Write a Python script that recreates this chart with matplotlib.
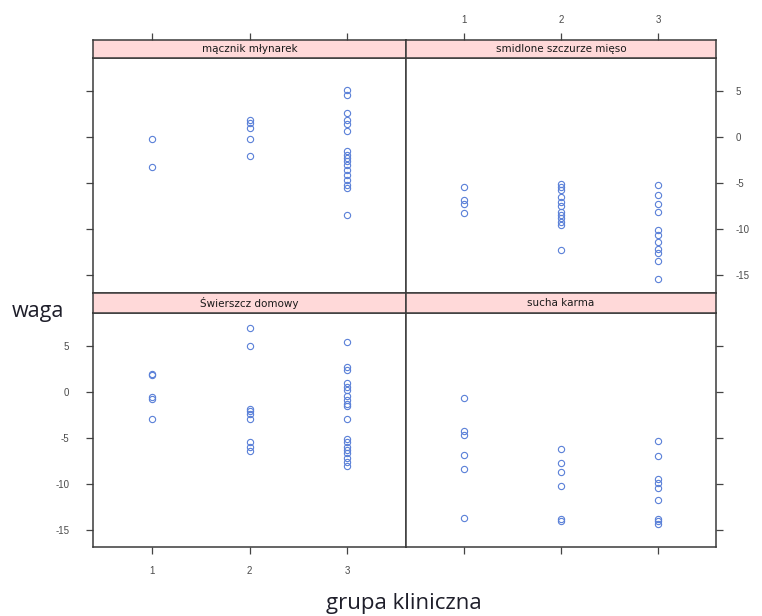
import matplotlib
matplotlib.use("Agg")
import matplotlib.pyplot as plt

plt.rcParams["axes.unicode_minus"] = False

# panel names (lattice strips)
panels = ["mącznik młynarek", "smidlone szczurze mięso", "Świerszcz domowy", "sucha karma"]
groups = [1, 2, 3]
y_ticks = [5, 0, -5, -10, -15]

# waga values, per group 1/2/3
maka_1 = [-0.2, -3.2]
maka_2 = [1.9, 1.5, 1.0, -0.2, -2.0]
maka_3 = [5.1, 4.6, 2.6, 1.9, 1.4, 0.7, -1.5, -1.9, -2.25, -2.6, -3.0, -3.5, -4.1, -4.6, -5.2, -5.5, -8.45]

szczur_1 = [-5.4, -6.8, -7.2, -8.2]
szczur_2 = [-5.1, -5.4, -5.7, -6.45, -7.0, -7.5, -8.1, -8.45, -8.8, -9.2, -9.5, -12.2]
szczur_3 = [-5.2, -6.3, -7.2, -8.1, -10.1, -10.6, -11.4, -12.1, -12.6, -13.4, -15.4]

swierszcz_1 = [2.0, 1.8, -0.5, -0.8, -2.9]
swierszcz_2 = [7.0, 5.0, -1.85, -2.1, -2.4, -2.9, -5.5, -6.0, -6.45]
swierszcz_3 = [5.4, 2.7, 2.4, 1.0, 0.55, 0.25, -0.4, -0.84, -1.27, -1.56, -2.9,
               -5.1, -5.5, -6.0, -6.3, -6.7, -7.2, -7.65, -8.1]

sucha_1 = [-0.65, -4.3, -4.65, -6.85, -8.4, -13.7]
sucha_2 = [-6.2, -7.8, -8.7, -10.2, -13.9, -14.1]
sucha_3 = [-5.3, -7.0, -9.5, -9.95, -10.5, -11.8, -13.8, -14.1, -14.4]

data = [
    [maka_1, maka_2, maka_3],
    [szczur_1, szczur_2, szczur_3],
    [swierszcz_1, swierszcz_2, swierszcz_3],
    [sucha_1, sucha_2, sucha_3],
]

W, H = 762, 616
fig = plt.figure(figsize=(W / 100, H / 100), dpi=100)

def frac(x0, y0, x1, y1):
    # pixel box -> figure fraction rect
    return [x0 / W, 1 - y1 / H, (x1 - x0) / W, (y1 - y0) / H]

cols = [(93, 406), (406, 716)]
rows = [((40, 58), (58, 293)), ((293, 313), (313, 547))]

frame_col = "#3a3a3a"
tick_col = "#444444"
label_col = "#4a4a4a"
pt_col = "#5a80d8"

for i, name in enumerate(panels):
    r, c = divmod(i, 2)
    (sy0, sy1), (py0, py1) = rows[r]
    x0, x1 = cols[c]

    ax = fig.add_axes(frac(x0, py0, x1, py1))
    sax = fig.add_axes(frac(x0, sy0, x1, sy1))

    for g, vals in zip(groups, data[i]):
        ax.plot([g] * len(vals), vals, "o", mfc="none", mec=pt_col, mew=0.8, ms=4.5)

    ax.set_xlim(0.4, 3.6)
    ax.set_ylim(-16.9, 8.6)
    sax.set_xlim(0.4, 3.6)
    sax.set_ylim(0, 1)
    sax.set_facecolor("#ffd9d9")
    sax.text(2.0, 0.5, name, ha="center", va="center", fontsize=7.5,
             color="#1a1a1a")
    sax.set_yticks([])

    ax.set_xticks(groups)
    ax.set_yticks(y_ticks)
    sax.set_xticks(groups)

    for a in (ax, sax):
        for s in a.spines.values():
            s.set_color(frame_col)
            s.set_linewidth(1.1)
        a.tick_params(direction="out", length=5, width=0.9, color=tick_col,
                      labelsize=7, labelcolor=label_col, labelfontfamily="Liberation Sans")

    if r == 0:
        # top axis ticks sit above the strip
        ax.tick_params(axis="x", bottom=False, top=False, labelbottom=False, labeltop=False)
        sax.tick_params(axis="x", bottom=False, top=True, labelbottom=False,
                        labeltop=(c == 1), pad=6)
    else:
        ax.tick_params(axis="x", bottom=True, top=False, labelbottom=(c == 0),
                       labeltop=False, pad=9)
        sax.tick_params(axis="x", bottom=False, top=False, labelbottom=False, labeltop=False)

    if c == 0:
        ax.tick_params(axis="y", left=True, right=False, labelleft=(r == 1),
                       labelright=False, pad=12)
    else:
        ax.tick_params(axis="y", left=False, right=True, labelleft=False,
                       labelright=(r == 0), pad=9)

fig.text(12 / W, 1 - 312 / H, "waga", ha="left", va="center", fontsize=15.5,
         family="Open Sans", color="#1e1e2a")
fig.text(404 / W, 1 - 614 / H, "grupa kliniczna", ha="center", va="bottom", fontsize=16,
         family="Open Sans", color="#1e1e2a")

fig.savefig("out.png", dpi=100, facecolor="white")
